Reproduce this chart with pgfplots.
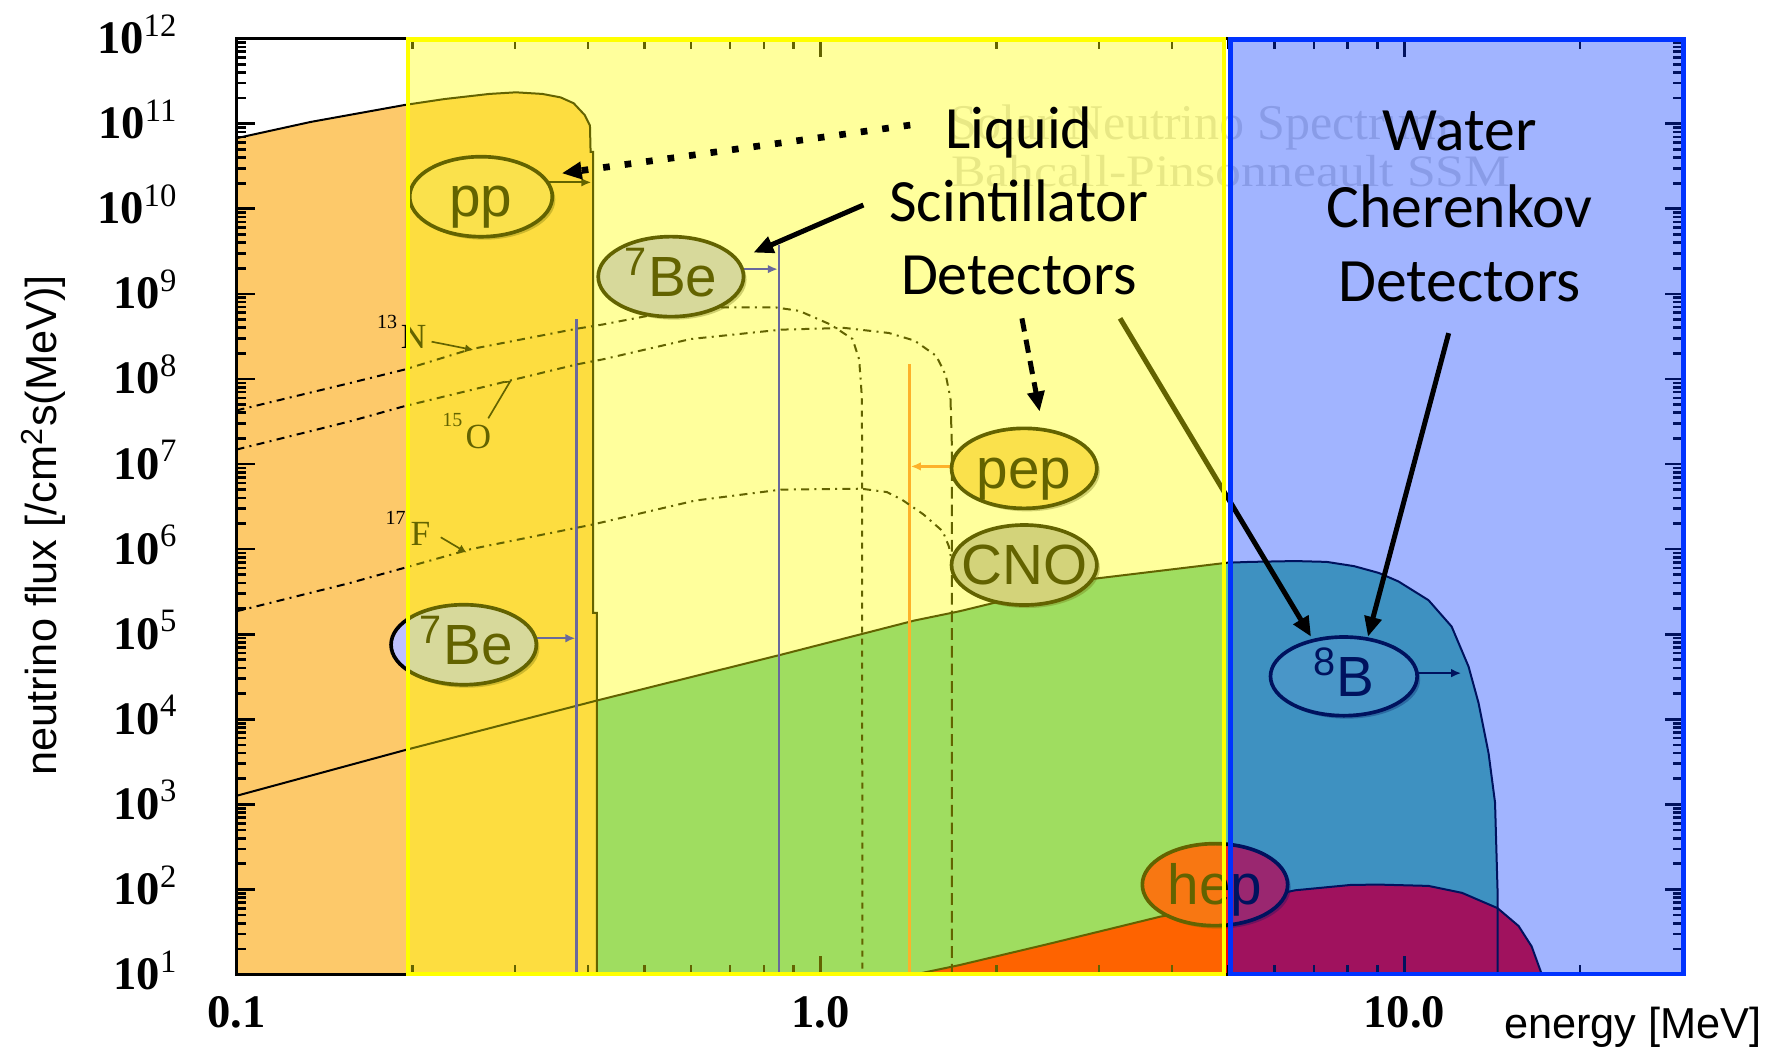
\documentclass[border=0pt]{standalone}
\usepackage{fontspec}
\setmainfont{Liberation Serif}
\newfontfamily\lsans{Liberation Sans}
\newfontfamily\carl{Carlito}
\usepackage{pgfplots}
\pgfplotsset{compat=1.18}
\usetikzlibrary{arrows.meta,shadows}

\definecolor{ppC}{RGB}{253,201,106}
\definecolor{bC}{RGB}{99,200,157}
\definecolor{hepC}{RGB}{254,0,0}
\definecolor{beC}{RGB}{10,10,255}
\definecolor{pepC}{RGB}{252,129,69}
\definecolor{yov}{RGB}{255,255,0}
\definecolor{bov}{RGB}{0,51,255}
\definecolor{ppE}{RGB}{248,206,125}
\definecolor{beE}{RGB}{190,193,254}
\definecolor{cnoE}{RGB}{184,184,200}
\definecolor{bE}{RGB}{117,208,168}
\definecolor{hepE}{RGB}{245,33,30}
\definecolor{wm}{RGB}{218,218,218}

\def\yminor{2e1}
\foreach \k in {1,...,11}{\foreach \m in {2,...,9}{%
  \ifnum\k=1 \ifnum\m=2 \else\xdef\yminor{\yminor,\m e\k}\fi\else\xdef\yminor{\yminor,\m e\k}\fi}}

\begin{document}
\begin{tikzpicture}
\begin{axis}[
  at={(0pt,0pt)}, anchor=south west,
  scale only axis, width=433.92pt, height=280.75pt,
  xmode=log, ymode=log,
  xmin=0.1, xmax=30, ymin=10, ymax=1e12,
  xtick={0.1,1,10}, xticklabels={0.1,1.0,10.0},
  minor xtick={0.2,0.3,0.4,0.5,0.6,0.7,0.8,0.9,2,3,4,5,6,7,8,9,20,30},
  ytick={1e1,1e2,1e3,1e4,1e5,1e6,1e7,1e8,1e9,1e10,1e11,1e12},
  yticklabels={10\textsuperscript{\mdseries 1},10\textsuperscript{\mdseries 2},10\textsuperscript{\mdseries 3},10\textsuperscript{\mdseries 4},10\textsuperscript{\mdseries 5},10\textsuperscript{\mdseries 6},10\textsuperscript{\mdseries 7},10\textsuperscript{\mdseries 8},10\textsuperscript{\mdseries 9},10\textsuperscript{\mdseries 10},10\textsuperscript{\mdseries 11},10\textsuperscript{\mdseries 12}},
  minor ytick/.expanded={\yminor},
  axis on top,
  axis line style={line width=0.9pt},
  major tick length=5.5pt, minor tick length=3pt,
  every tick/.style={black, line width=0.8pt},
  tick label style={font=\fontsize{14}{14}\selectfont\bfseries},
  xticklabel style={yshift=-3pt},
  yticklabel style={anchor=base east, xshift=-14pt, yshift=-4.5pt},
  /pgf/number format/assume math mode=true,
  no markers,
]
% ---- fills
\addplot[fill=bC, draw=none] coordinates {(0.1,10) (0.1,1.26e3) (0.195,4.37e3) (0.414,1.66e4) (0.857,5.75e4) (1.45,1.45e5) (1.73,1.86e5) (2.93,4.47e5) (4.97,6.92e5) (5.45,7.08e5) (6.5,7.24e5) (7.36,7.08e5) (8.2,6.31e5) (9.04,5.25e5) (9.77,4.17e5) (11.0,2.51e5) (12.05,1.23e5) (12.88,4.17e4) (13.4,1.55e4) (13.94,3.98e3) (14.3,1.05e3) (14.44,1.0e2) (14.45,10)};
\addplot[fill=hepC, draw=none] coordinates {(1.45,10) (1.73,12.9) (2.46,22.9) (3.82,47.9) (5.0,66.1) (6.5,97.7) (8.1,113) (9.04,114) (11.0,110) (12.55,91.2) (14.44,60.3) (15.69,37.2) (16.52,21.4) (17.2,10)};
\addplot[fill=ppC, draw=none] coordinates {(0.1,10) (0.1,6.76e10) (0.134,1.05e11) (0.194,1.66e11) (0.227,1.95e11) (0.271,2.24e11) (0.301,2.34e11) (0.334,2.24e11) (0.359,2.04e11) (0.378,1.74e11) (0.395,1.26e11) (0.403,9.55e10) (0.404,4.68e10) (0.408,4.68e10) (0.408,1.78e5) (0.414,1.78e5) (0.414,10)};
% ---- outlines
\addplot[black, line width=0.6pt] coordinates {(0.1,1.26e3) (0.195,4.37e3) (0.414,1.66e4) (0.857,5.75e4) (1.45,1.45e5) (1.73,1.86e5) (2.93,4.47e5) (4.97,6.92e5) (5.45,7.08e5) (6.5,7.24e5) (7.36,7.08e5) (8.2,6.31e5) (9.04,5.25e5) (9.77,4.17e5) (11.0,2.51e5) (12.05,1.23e5) (12.88,4.17e4) (13.4,1.55e4) (13.94,3.98e3) (14.3,1.05e3) (14.44,1.0e2) (14.45,10)};
\addplot[black, line width=0.6pt] coordinates {(1.45,10) (1.73,12.9) (2.46,22.9) (3.82,47.9) (5.0,66.1) (6.5,97.7) (8.1,113) (9.04,114) (11.0,110) (12.55,91.2) (14.44,60.3) (15.69,37.2) (16.52,21.4) (17.2,10)};
\addplot[black, line width=0.6pt] coordinates {(0.1,6.76e10) (0.134,1.05e11) (0.194,1.66e11) (0.227,1.95e11) (0.271,2.24e11) (0.301,2.34e11) (0.334,2.24e11) (0.359,2.04e11) (0.378,1.74e11) (0.395,1.26e11) (0.403,9.55e10) (0.404,4.68e10) (0.408,4.68e10) (0.408,1.78e5) (0.414,1.78e5) (0.414,10)};
% ---- 7Be and pep lines
\addplot[beC, line width=0.7pt] coordinates {(0.382,10) (0.382,5.01e8)};
\addplot[beC, line width=0.7pt] coordinates {(0.85,10) (0.85,3.80e9)};
\addplot[pepC, line width=0.7pt] coordinates {(1.42,10) (1.42,1.48e8)};
% ---- CNO curves
\addplot[black, line width=0.6pt, dash pattern=on 2.4pt off 1.6pt on 0.6pt off 1.6pt] coordinates {(0.1,4.27e7) (0.156,8.91e7) (0.194,1.29e8) (0.252,2.24e8) (0.382,3.89e8) (0.424,4.37e8) (0.505,5.50e8) (0.658,6.92e8) (0.84,6.92e8) (0.92,6.31e8) (1.04,4.37e8) (1.135,2.95e8) (1.165,1.70e8) (1.178,5.89e7)};
\addplot[black, line width=0.6pt, dash pattern=on 1.8pt off 1.8pt] coordinates {(1.178,5.89e7) (1.18,10)};
\addplot[black, line width=0.6pt, dash pattern=on 2.4pt off 1.6pt on 0.6pt off 1.6pt] coordinates {(0.1,1.48e7) (0.156,3.16e7) (0.194,4.79e7) (0.382,1.48e8) (0.424,1.70e8) (0.60,2.95e8) (0.857,3.80e8) (1.1,3.98e8) (1.31,3.47e8) (1.45,2.82e8) (1.58,1.86e8) (1.64,1.10e8) (1.67,5.89e7)};
\addplot[black, line width=0.6pt, dash pattern=on 3.5pt off 1.8pt] coordinates {(1.67,5.89e7) (1.68,1.5e7) (1.68,10)};
\addplot[black, line width=0.6pt, dash pattern=on 2.4pt off 1.6pt on 0.6pt off 1.6pt] coordinates {(0.1,1.86e5) (0.156,3.98e5) (0.194,6.03e5) (0.252,1.0e6) (0.408,1.95e6) (0.61,3.72e6) (0.857,5.01e6) (1.175,5.13e6) (1.30,4.68e6) (1.38,3.80e6) (1.50,2.57e6) (1.62,1.62e6) (1.66,1.07e6) (1.68,7.0e5)};
\end{axis}

\begin{scope}[x=0.34113pt, y=-0.34113pt, xshift=-70.955pt, yshift=292.35pt]
% watermark
\node[wm, anchor=base west, font=\fontsize{15}{15}\selectfont, xscale=1.0, inner sep=0pt] at (834,123) {Solar Neutrino Spectrum};
\node[wm, anchor=base west, font=\fontsize{13.5}{13.5}\selectfont, xscale=1.15, inner sep=0pt] at (836,164) {Bahcall-Pinsonneault SSM};
% isotope labels
\node[anchor=base west, inner sep=0pt, font=\fontsize{6}{6}\selectfont] at (331,288.7) {13};
\node[anchor=base west, inner sep=0pt, font=\fontsize{10.6}{10.6}\selectfont] at (352,306.3) {N};
\draw[line width=0.5pt, -{Latex[length=2.5pt,width=2.5pt]}] (379.6,300.5) -- (416.3,307.8);
\node[anchor=base west, inner sep=0pt, font=\fontsize{6}{6}\selectfont] at (388.4,375.2) {15};
\node[anchor=base west, inner sep=0pt, font=\fontsize{10.6}{10.6}\selectfont] at (409,394.3) {O};
\draw[line width=0.5pt] (429.4,367.9) -- (448.5,335.7) -- (444,336);
\node[anchor=base west, inner sep=0pt, font=\fontsize{6}{6}\selectfont] at (338.6,461.7) {17};
\node[anchor=base west, inner sep=0pt, font=\fontsize{10.6}{10.6}\selectfont] at (360.6,479.3) {F};
\draw[line width=0.5pt, -{Latex[length=2.5pt,width=2.5pt]}] (387.6,472.5) -- (410.4,486);
% small label arrows
\draw[black, line width=0.6pt, -{Latex[length=3pt,width=2.6pt]}] (481,160.4) -- (520,160.4);
\draw[beC, line width=0.7pt, -{Latex[length=3pt,width=2.6pt]}] (652,236.7) -- (684,236.7);
\draw[beC, line width=0.7pt, -{Latex[length=3pt,width=2.6pt]}] (470,561.3) -- (506,561.3);
\draw[pepC, line width=0.7pt, -{Latex[length=3pt,width=2.6pt]}] (837,410.2) -- (801,410.2);
\draw[black, line width=0.6pt, -{Latex[length=3pt,width=2.6pt]}] (1246,592) -- (1285,592);
% ellipses
\tikzset{lab/.style={anchor=base, font=\lsans\fontsize{17}{17}\selectfont, inner sep=0pt},
  sh/.style={drop shadow={shadow xshift=0.9pt, shadow yshift=-0.9pt, opacity=0.3, fill=black}}}
\draw[fill=ppE, line width=1.1pt, sh] (423,173) ellipse [x radius=21.4pt, y radius=12pt];
\node[lab] at (423,190.3) {pp};
\draw[fill=beE, line width=1.1pt, sh] (590,243.3) ellipse [x radius=21.8pt, y radius=12pt];
\node[lab] at (590,260.6) {\textsuperscript{7}Be};
\draw[fill=beE, line width=1.1pt, sh] (407.8,567) ellipse [x radius=21.8pt, y radius=12pt];
\node[lab] at (410,584.3) {\textsuperscript{7}Be};
\draw[fill=ppE, line width=1.1pt, sh] (900.7,411.9) ellipse [x radius=21.8pt, y radius=12pt];
\node[lab] at (900.7,429.2) {pep};
\draw[fill=cnoE, line width=1.1pt, sh] (900.7,496.9) ellipse [x radius=21.8pt, y radius=12pt];
\node[lab] at (900.7,514.2) {CNO};
\draw[fill=bE, line width=1.1pt, sh] (1181.8,594.8) ellipse [x radius=22pt, y radius=11.8pt];
\node[lab] at (1181.8,612.1) {\textsuperscript{8}B};
\draw[fill=hepE, line width=1.1pt, sh] (1068.5,778) ellipse [x radius=21.8pt, y radius=12.3pt];
\node[lab] at (1068.5,795.3) {hep};
% blue overlay
\fill[bov, opacity=0.37] (1082,34) rectangle (1480.5,857);
% arrow to 8B (under the yellow overlay)
\draw[black, line width=1.5pt, -{Triangle[length=6pt,width=5pt]}] (985,280) -- (1153,560);
% yellow overlay
\fill[yov, opacity=0.39] (358.7,34) rectangle (1076.3,857);
% borders
\draw[yov, line width=1.4pt] (358.7,34.7) rectangle (1076.3,856.5);
\draw[bov, line width=1.4pt] (1082,34.7) rectangle (1480.5,856.5);
% black annotations on top
\draw[black, line width=2pt, dash pattern=on 2pt off 4.5pt, -{Triangle[length=6pt,width=5pt]}] (800.5,110) -- (494,152.4);
\draw[black, line width=1.5pt, -{Triangle[length=6pt,width=5pt]}] (759.3,180.3) -- (662.5,222.2);
\draw[black, line width=1.5pt, dash pattern=on 4pt off 2.5pt, -{Triangle[length=6pt,width=5pt]}] (898.7,280) -- (914.3,362);
\draw[black, line width=1.5pt, -{Triangle[length=6pt,width=5pt]}] (1274,293) -- (1203,560);
\tikzset{big/.style={anchor=base, font=\carl\fontsize{18}{18}\selectfont, inner sep=0pt}}
\node[big] at (896,131) {Liquid};
\node[big] at (896,195) {Scintillator};
\node[big] at (896,259) {Detectors};
\tikzset{bigw/.style={anchor=base, font=\carl\fontsize{18.5}{18.5}\selectfont, inner sep=0pt}}
\node[bigw] at (1283.5,132) {Water};
\node[bigw] at (1283.5,200) {Cherenkov};
\node[bigw] at (1283.5,265) {Detectors};
% axis labels
\node[rotate=90, font=\lsans\fontsize{13}{13}\selectfont] at (38,462) {neutrino flux [/cm\textsuperscript{2}s(MeV)]};
\node[font=\lsans\fontsize{13}{13}\selectfont] at (1436,903) {energy [MeV]};
% page
\pgfresetboundingbox
\path[use as bounding box] (0,0) rectangle (1568,928);
\end{scope}
\end{tikzpicture}
\end{document}
